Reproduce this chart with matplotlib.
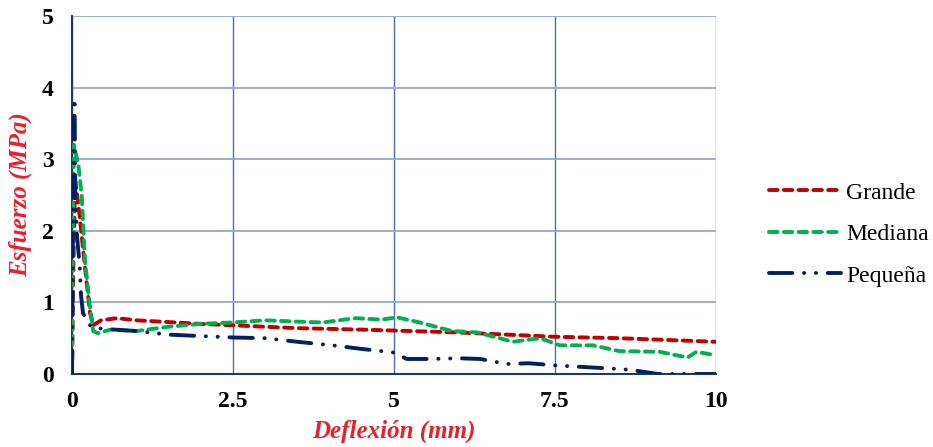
import matplotlib
matplotlib.use('Agg')
import matplotlib.pyplot as plt

# deflection (mm) / stress (MPa)
grande_x = [0.0, 0.02, 0.05, 0.12, 0.2, 0.28, 0.33, 0.45, 0.7, 1.0, 2.0, 3.5, 4.5, 6.0, 7.5, 8.5, 10.0]
grande_y = [0.0, 1.5, 2.7, 2.2, 1.5, 0.85, 0.68, 0.75, 0.78, 0.75, 0.7, 0.64, 0.62, 0.58, 0.52, 0.5, 0.45]

mediana_x = [0.0, 0.01, 0.03, 0.1, 0.15, 0.2, 0.27, 0.33, 0.4, 0.6, 1.0, 1.5, 2.0, 2.5, 3.0,
             3.54, 3.9, 4.4, 4.8, 5.05, 5.4, 5.9, 6.3, 6.85, 7.27, 7.58, 8.09, 8.5, 9.13, 9.56, 9.7, 9.95]
mediana_y = [0.0, 2.0, 3.2, 2.9, 2.5, 1.6, 1.0, 0.6, 0.57, 0.62, 0.6, 0.66, 0.7, 0.72, 0.75,
             0.73, 0.72, 0.78, 0.76, 0.79, 0.72, 0.6, 0.58, 0.45, 0.5, 0.4, 0.4, 0.32, 0.31, 0.23, 0.31, 0.27]

pequena_x = [0.0, 0.01, 0.02, 0.03, 0.04, 0.05, 0.08, 0.12, 0.14, 0.17, 0.3, 0.5, 1.0, 1.5, 2.0,
             2.5, 3.0, 3.5, 4.05, 4.5, 5.0, 5.2, 5.6, 6.0, 6.34, 6.75, 7.1, 7.5, 7.9, 8.3, 8.66, 9.1, 10.0]
pequena_y = [0.0, 1.5, 3.0, 3.6, 3.85, 2.5, 1.9, 1.5, 1.1, 0.85, 0.65, 0.63, 0.6, 0.55, 0.53,
             0.51, 0.5, 0.45, 0.4, 0.35, 0.3, 0.21, 0.21, 0.22, 0.21, 0.14, 0.15, 0.12, 0.1, 0.08, 0.06, 0.0, 0.0]

x_ticks = [0, 2.5, 5, 7.5, 10]
x_tick_labels = ['0', '2.5', '5', '7.5', '10']
y_ticks = [0, 1, 2, 3, 4, 5]

plt.rcParams['font.family'] = ['Liberation Serif', 'DejaVu Serif']

fig = plt.figure(figsize=(9.33, 4.47), dpi=100)
ax = fig.add_axes([0.0772, 0.1633, 0.690, 0.801])

ax.plot(grande_x, grande_y, color='#C00000', lw=2.8, dashes=(2.2, 1.6),
        dash_capstyle='round', label='Grande', zorder=3)
ax.plot(mediana_x, mediana_y, color='#00B050', lw=2.8, dashes=(2.2, 1.6),
        dash_capstyle='round', label='Mediana', zorder=3)
ax.plot(pequena_x, pequena_y, color='#002060', lw=2.8, dashes=(6, 3, 0.05, 3, 0.05, 3),
        dash_capstyle='round', label='Pequeña', zorder=4)

ax.set_xlim(0, 10)
ax.set_ylim(0, 5)
ax.set_xticks(x_ticks)
ax.set_xticklabels(x_tick_labels)
ax.set_yticks(y_ticks)
ax.tick_params(axis='x', length=0, labelsize=17, pad=12)
ax.tick_params(axis='y', length=0, labelsize=17, pad=13)
for lbl in ax.get_xticklabels() + ax.get_yticklabels():
    lbl.set_fontweight('bold')

ax.xaxis.grid(True, color='#4F6BA8', lw=1)
ax.yaxis.grid(True, color='#94A7CC', lw=1.3)
ax.set_axisbelow(True)
for side in ['top', 'right']:
    ax.spines[side].set_visible(False)
for side in ['left', 'bottom']:
    ax.spines[side].set_color('#1F3864')
    ax.spines[side].set_linewidth(1.5)

ax.set_xlabel('Deflexión (mm)', color='#E8202A', fontsize=18, fontweight='bold', style='italic', labelpad=6)
ax.set_ylabel('Esfuerzo (MPa)', color='#E8202A', fontsize=18, fontweight='bold', style='italic', labelpad=7)

ax.legend(loc='center left', bbox_to_anchor=(1.05, 0.39), frameon=False, fontsize=17,
          handlelength=3.05, handletextpad=0.2, labelspacing=0.85)

fig.savefig('out.png', dpi=100)
